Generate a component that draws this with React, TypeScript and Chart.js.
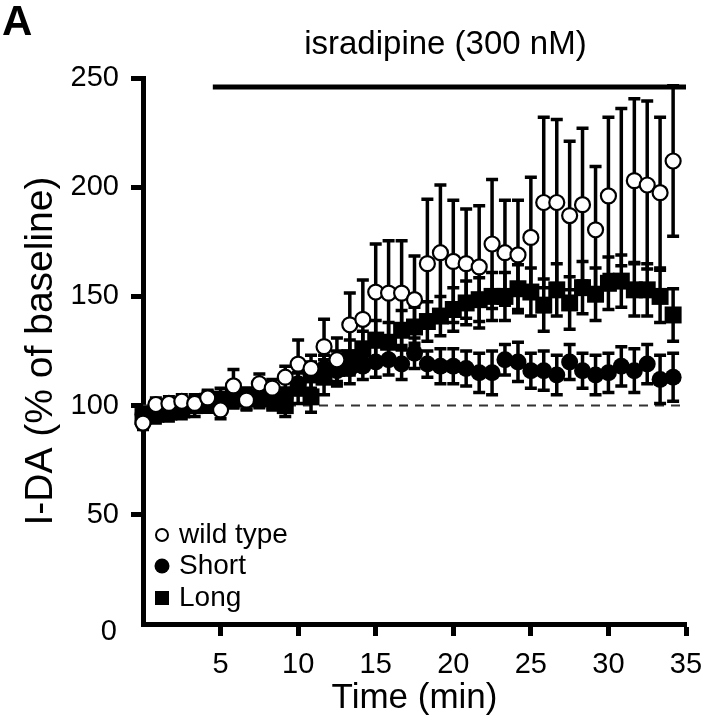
import React, { useEffect, useRef } from "react";
import { Chart, registerables } from "chart.js";

Chart.register(...registerables);

// Time points (min)
const timeMin = [
  0, 0.83, 1.67, 2.5, 3.33, 4.17, 5, 5.83, 6.67, 7.5, 8.33, 9.17, 10, 10.83,
  11.67, 12.5, 13.33, 14.17, 15, 15.83, 16.67, 17.5, 18.33, 19.17, 20, 20.83,
  21.67, 22.5, 23.33, 24.17, 25, 25.83, 26.67, 27.5, 28.33, 29.17, 30, 30.83,
  31.67, 32.5, 33.33, 34.17,
];

const wildType = [
  92, 100.5, 101, 102, 101, 103.5, 98, 109, 102.5, 110, 108, 113, 119, 117,
  127, 121, 137, 139.5, 152, 151.5, 151.5, 148.5, 165, 170, 166, 165, 163.5,
  174, 170, 169, 177, 193, 193, 187, 192, 180.5, 196, 200, 203, 201, 197.5, 212,
];
const wildTypeErr = [
  3, 3, 3, 3, 3, 3, 4, 7.5, 4, 4.5, 4, 5, 11, 6, 12.5, 10, 14.5, 18, 22, 24,
  24, 20, 29.5, 31, 28, 25, 28, 29.5, 24, 25, 27.5, 39, 38, 34, 35, 29, 36, 36,
  37.5, 38.5, 34.5, 34.5,
];

const shortVals = [
  96, 97, 98, 98, 100, 101, 100, 103, 104, 104, 103, 104, 110, 114, 117, 116,
  117, 118, 120, 121, 119, 124, 119, 118, 118, 117, 115, 115, 121, 120, 116,
  116, 114, 120, 116, 114, 115, 118, 116, 119, 112, 113,
];
const shortErr = [
  3, 3, 3, 3, 3, 3, 3, 4, 4, 4, 4, 4, 5, 6, 6, 6, 7, 6, 7, 7, 7, 7, 6, 8, 8, 8,
  9, 10, 7, 9, 8, 9, 9, 8, 8, 9, 9, 9, 10, 9, 11, 11,
];

const longVals = [
  95, 96, 97, 98, 100, 102, 103, 104, 103, 104, 103, 100, 108, 104, 113, 117,
  122, 126, 130, 129, 134.5, 136, 138.5, 141, 144, 147, 148.5, 150, 150, 153.5,
  152, 146, 153, 147, 154, 151, 156, 157, 153, 153, 150, 141.5,
];
const longErr = [
  4, 4, 4, 4, 5, 5, 5, 5, 5, 5, 5, 5, 7, 7, 8, 8, 8, 8, 9, 9, 9, 9, 9, 9, 10,
  10, 10, 11, 11, 11, 11, 12, 12, 12, 12, 12, 12, 12, 12, 12, 12, 12,
];

// marker hidden in the original figure for one wild-type point
const wildTypeHidden = [37];

const xTicks = [5, 10, 15, 20, 25, 30, 35];
const yTicks = [0, 50, 100, 150, 200, 250];

const FONT = "'Liberation Sans', Arial, Helvetica, sans-serif";

const overlayPlugin = {
  id: "overlay",
  beforeDatasetsDraw(chart: any) {
    const { ctx, scales } = chart;
    const x = scales.x;
    const y = scales.y;
    ctx.save();
    // dashed 100% baseline
    ctx.setLineDash([9, 7]);
    ctx.strokeStyle = "#333";
    ctx.lineWidth = 2;
    ctx.beginPath();
    ctx.moveTo(x.getPixelForValue(0), y.getPixelForValue(100));
    ctx.lineTo(x.getPixelForValue(35), y.getPixelForValue(100));
    ctx.stroke();
    ctx.setLineDash([]);
    // error bars
    const dsList = chart.data.datasets;
    for (let d = dsList.length - 1; d >= 0; d--) {
      const ds = dsList[d];
      const errs = ds.errors as number[];
      ds.data.forEach((pt: any, i: number) => {
        const px = x.getPixelForValue(pt.x);
        const top = y.getPixelForValue(pt.y + errs[i]);
        const bot = y.getPixelForValue(pt.y - errs[i]);
        ctx.strokeStyle = "#000";
        ctx.lineWidth = 3.5;
        ctx.beginPath();
        ctx.moveTo(px, top);
        ctx.lineTo(px, bot);
        ctx.moveTo(px - 6, top);
        ctx.lineTo(px + 6, top);
        ctx.moveTo(px - 6, bot);
        ctx.lineTo(px + 6, bot);
        ctx.stroke();
      });
    }
    ctx.restore();
  },
  afterDraw(chart: any) {
    const { ctx, scales } = chart;
    const x = scales.x;
    ctx.save();
    // panel letter
    ctx.fillStyle = "#000";
    ctx.font = `bold 42px ${FONT}`;
    ctx.textAlign = "left";
    ctx.textBaseline = "alphabetic";
    ctx.fillText("A", 2, 35);
    // treatment bar
    const x0 = x.getPixelForValue(4.5);
    const x1 = x.getPixelForValue(35);
    ctx.strokeStyle = "#000";
    ctx.lineWidth = 5;
    ctx.beginPath();
    ctx.moveTo(x0, 87);
    ctx.lineTo(x1, 87);
    ctx.stroke();
    ctx.font = `33px ${FONT}`;
    ctx.textAlign = "center";
    ctx.textBaseline = "middle";
    ctx.fillText("isradipine (300 nM)", (x0 + x1) / 2 - 4, 45);
    // zero label of y axis
    ctx.font = `29px ${FONT}`;
    ctx.textAlign = "right";
    ctx.fillText("0", 117, 632);
    // legend
    const lx = 162;
    ctx.font = `28px ${FONT}`;
    ctx.textAlign = "left";
    ctx.textBaseline = "middle";
    ctx.lineWidth = 2;
    ctx.beginPath();
    ctx.arc(lx, 535, 6, 0, Math.PI * 2);
    ctx.fillStyle = "#fff";
    ctx.fill();
    ctx.strokeStyle = "#000";
    ctx.stroke();
    ctx.fillStyle = "#000";
    ctx.fillText("wild type", 179, 535);
    ctx.beginPath();
    ctx.arc(lx, 566, 7.5, 0, Math.PI * 2);
    ctx.fill();
    ctx.fillText("Short", 179, 566);
    ctx.fillRect(lx - 7, 598 - 7, 14, 14);
    ctx.fillText("Long", 179, 598);
    ctx.restore();
  },
};

export default function App() {
  const canvasRef = useRef<HTMLCanvasElement | null>(null);

  useEffect(() => {
    if (!canvasRef.current) return;
    const toPts = (vals: number[]) =>
      vals.map((v, i) => ({ x: timeMin[i], y: v }));

    const chart = new Chart(canvasRef.current, {
      type: "scatter",
      data: {
        datasets: [
          {
            label: "wild type",
            data: toPts(wildType),
            errors: wildTypeErr,
            pointStyle: "circle",
            pointRadius: wildType.map((_, i) =>
              wildTypeHidden.includes(i) ? 0 : 7.5
            ),
            pointBackgroundColor: "#fff",
            pointBorderColor: "#000",
            pointBorderWidth: 2.2,
            showLine: false,
            clip: false,
          } as any,
          {
            label: "Short",
            data: toPts(shortVals),
            errors: shortErr,
            pointStyle: "circle",
            pointRadius: 8.5,
            pointBackgroundColor: "#000",
            pointBorderColor: "#000",
            pointBorderWidth: 0,
            showLine: false,
            clip: false,
          } as any,
          {
            label: "Long",
            data: toPts(longVals),
            errors: longErr,
            pointStyle: "rect",
            pointRadius: 12,
            pointBackgroundColor: "#000",
            pointBorderColor: "#000",
            pointBorderWidth: 0,
            showLine: false,
            clip: false,
          } as any,
        ],
      },
      options: {
        animation: false,
        responsive: false,
        maintainAspectRatio: false,
        layout: { padding: { left: 0, right: 21, top: 78, bottom: 0 } },
        plugins: {
          legend: { display: false },
          tooltip: { enabled: false },
        },
        scales: {
          x: {
            type: "linear",
            min: 0,
            max: 35,
            afterBuildTicks: (s: any) => {
              s.ticks = xTicks.map((v) => ({ value: v }));
            },
            afterFit: (s: any) => {
              s.height = 102;
              s.paddingLeft = 0;
              s.paddingRight = 0;
            },
            ticks: {
              autoSkip: false,
              maxRotation: 0,
              color: "#000",
              padding: 12,
              font: { family: FONT, size: 29 },
            },
            grid: {
              display: true,
              drawOnChartArea: false,
              drawTicks: true,
              tickLength: 12,
              tickWidth: 5,
              tickColor: "#000",
            },
            border: { display: true, color: "#000", width: 5 },
            title: {
              display: true,
              text: "Time (min)",
              color: "#000",
              font: { family: FONT, size: 35 },
              padding: { top: 0, bottom: 7 },
            },
          },
          y: {
            type: "linear",
            min: 0,
            max: 250,
            afterBuildTicks: (s: any) => {
              s.ticks = yTicks.map((v) => ({ value: v }));
            },
            afterFit: (s: any) => {
              s.width = 143;
              s.paddingTop = 0;
              s.paddingBottom = 0;
            },
            ticks: {
              color: "#000",
              padding: 12,
              font: { family: FONT, size: 29 },
              callback: (v: any) => (v === 0 ? "" : String(v)),
            },
            grid: {
              display: true,
              drawOnChartArea: false,
              drawTicks: true,
              tickLength: 12,
              tickWidth: 5,
              tickColor: (c: any) =>
                c.tick && c.tick.value === 0 ? "rgba(0,0,0,0)" : "#000",
            },
            border: { display: true, color: "#000", width: 5 },
            title: {
              display: true,
              text: "I-DA (% of baseline)",
              color: "#000",
              font: { family: FONT, size: 39 },
              padding: { top: 18, bottom: 0 },
            },
          },
        },
      } as any,
      plugins: [overlayPlugin],
    });
    return () => chart.destroy();
  }, []);

  return (
    <div
      style={{
        position: "absolute",
        left: 0,
        top: 0,
        width: 707,
        height: 726,
        background: "#fff",
      }}
    >
      <canvas ref={canvasRef} width={707} height={726} />
    </div>
  );
}
